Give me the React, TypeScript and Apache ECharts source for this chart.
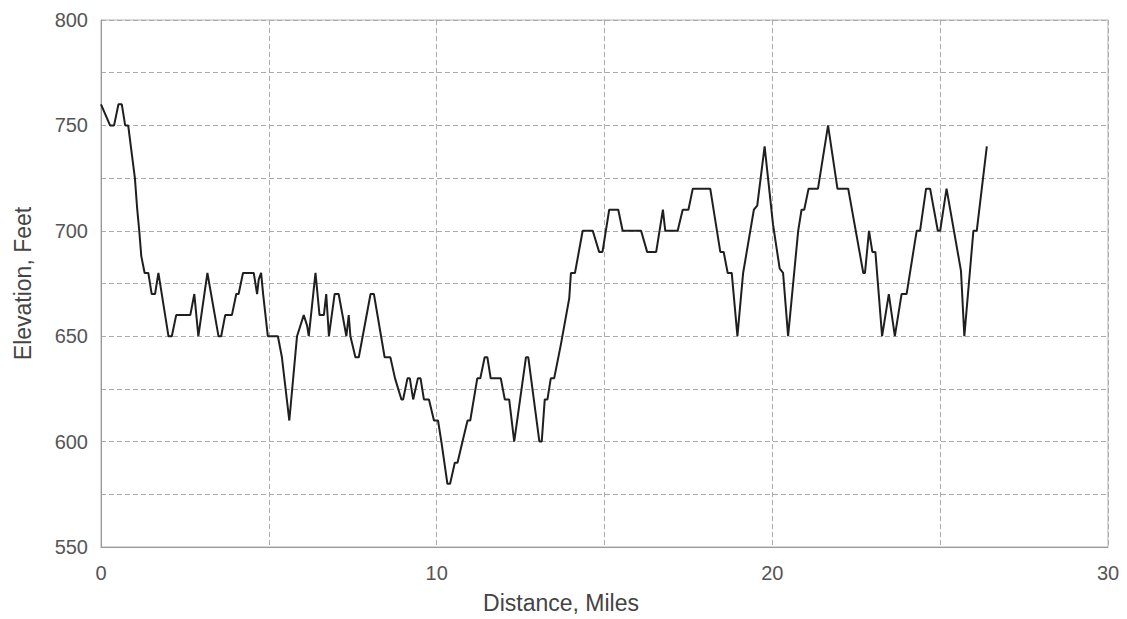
import React, { useEffect, useRef } from "react";
import * as echarts from "echarts";

const miles: number[] = [
  0.0, 0.27, 0.39, 0.52, 0.62, 0.72, 0.81, 0.93, 1.01, 1.08, 1.14, 1.2, 1.3, 1.41, 1.51, 1.61, 1.71,
  2.01, 2.11, 2.24, 2.66, 2.78, 2.9, 3.17, 3.5, 3.58, 3.7, 3.9, 4.03, 4.1, 4.23, 4.55, 4.65, 4.7,
  4.77, 4.83, 4.97, 5.27, 5.39, 5.61, 5.84, 6.04, 6.14, 6.19, 6.39, 6.51, 6.64, 6.71, 6.79, 6.96,
  7.08, 7.31, 7.38, 7.43, 7.58, 7.68, 8.03, 8.13, 8.45, 8.62, 8.76, 8.95, 9.0, 9.13, 9.2, 9.3,
  9.44, 9.52, 9.62, 9.77, 9.92, 10.04, 10.14, 10.32, 10.4, 10.54, 10.62, 10.77, 10.92, 11.0,
  11.21, 11.3, 11.43, 11.51, 11.61, 11.91, 12.03, 12.16, 12.31, 12.66, 12.73, 13.06, 13.13,
  13.22, 13.3, 13.4, 13.5, 13.7, 13.95, 14.0, 14.12, 14.35, 14.65, 14.84, 14.94, 15.14, 15.41,
  15.54, 16.09, 16.27, 16.54, 16.74, 16.81, 17.18, 17.33, 17.5, 17.63, 18.15, 18.45, 18.55,
  18.67, 18.79, 18.96, 19.13, 19.45, 19.55, 19.77, 20.02, 20.22, 20.32, 20.47, 20.77, 20.87,
  20.95, 21.08, 21.36, 21.66, 21.94, 22.26, 22.71, 22.76, 22.88, 22.98, 23.07, 23.27, 23.47,
  23.65, 23.85, 24.0, 24.3, 24.4, 24.58, 24.7, 24.93, 25.0, 25.19, 25.62, 25.72, 25.99, 26.09,
  26.39,
];

const elevation: number[] = [
  760, 750, 750, 760, 760, 750, 750, 735, 725, 710, 700, 688, 680, 680, 670, 670, 680,
  650, 650, 660, 660, 670, 650, 680, 650, 650, 660, 660, 670, 670, 680, 680, 670, 677,
  680, 670, 650, 650, 640, 610, 650, 660, 655, 650, 680, 660, 660, 670, 650, 670,
  670, 650, 660, 650, 640, 640, 670, 670, 640, 640, 630, 620, 620, 630, 630, 620,
  630, 630, 620, 620, 610, 610, 600, 580, 580, 590, 590, 600, 610, 610,
  630, 630, 640, 640, 630, 630, 620, 620, 600, 640, 640, 600, 600,
  620, 620, 630, 630, 646, 668, 680, 680, 700, 700, 690, 690, 710, 710,
  700, 700, 690, 690, 710, 700, 700, 710, 710, 720, 720, 690, 690,
  680, 680, 650, 680, 710, 712, 740, 703, 682, 680, 650, 700, 710,
  710, 720, 720, 750, 720, 720, 680, 680, 700, 690, 690, 650, 670,
  650, 670, 670, 700, 700, 720, 720, 700, 700, 720, 681, 650, 700, 700,
  740,
];

const xTickLabels: number[] = [0, 10, 20, 30];
const yTickLabels: number[] = [550, 600, 650, 700, 750, 800];

const FONT = "'Liberation Sans', Arial, sans-serif";

export default function App() {
  const ref = useRef<HTMLDivElement>(null);
  useEffect(() => {
    if (!ref.current) return;
    const chart = echarts.init(ref.current, null, { renderer: "svg" });
    const data = miles.map((m, i) => [m, elevation[i]]);
    const gridLine = { show: true, lineStyle: { color: "#ababab", type: [5, 3] as any, width: 1 } };
    chart.setOption({
      animation: false,
      backgroundColor: "#ffffff",
      grid: { left: 101, right: 19, top: 20, bottom: 63, show: true, borderColor: "#b0b0b0", borderWidth: 1 },
      xAxis: {
        type: "value",
        min: 0,
        max: 30,
        interval: 5,
        name: "Distance, Miles",
        nameLocation: "middle",
        nameGap: 44,
        nameTextStyle: { fontFamily: FONT, fontSize: 23, color: "#444", padding: [0, 87, 0, 0] },
        axisLine: { show: true, lineStyle: { color: "#999", width: 1 } },
        axisTick: { show: false },
        axisLabel: {
          fontFamily: FONT,
          fontSize: 20,
          color: "#555",
          margin: 16,
          formatter: (v: number) => (xTickLabels.includes(v) ? String(v) : ""),
        },
        splitLine: gridLine,
      },
      yAxis: {
        type: "value",
        min: 550,
        max: 800,
        interval: 25,
        name: "Elevation, Feet",
        nameLocation: "middle",
        nameGap: 67,
        nameTextStyle: { fontFamily: FONT, fontSize: 23, color: "#444" },
        axisLine: { show: true, lineStyle: { color: "#999", width: 1 } },
        axisTick: { show: false },
        axisLabel: {
          fontFamily: FONT,
          fontSize: 20,
          color: "#555",
          margin: 13,
          formatter: (v: number) => (yTickLabels.includes(v) ? String(v) : ""),
        },
        splitLine: gridLine,
      },
      series: [
        {
          type: "line",
          data,
          symbol: "none",
          lineStyle: { color: "#1f1f1f", width: 2 },
        },
      ],
    });
    return () => chart.dispose();
  }, []);
  return (
    <div
      ref={ref}
      style={{ position: "absolute", left: 0, top: 0, width: 1127, height: 619 }}
    />
  );
}
